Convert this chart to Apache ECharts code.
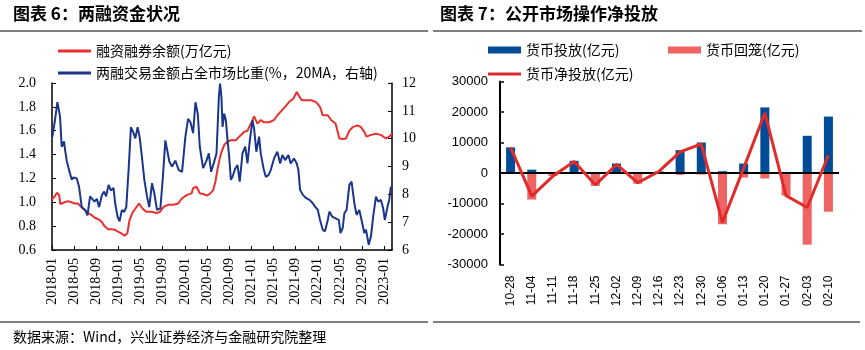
<!DOCTYPE html>
<html>
<head>
<meta charset="utf-8">
<script src="https://cdn.jsdelivr.net/npm/echarts@6/dist/echarts.min.js"></script>
<style>
  html, body { margin: 0; padding: 0; background: #fff; }
  #main { width: 865px; height: 350px; }
</style>
</head>
<body>
<div id="main"></div>
<script>
// 图表6 两融：横轴为自2018-01起的月份数
var redT = [0,0.5,0.9,1.3,1.5,2.3,2.9,3.5,4.1,4.7,5.3,5.9,6.5,7.1,7.7,8.3,8.9,9.5,10.1,10.7,11.3,11.9,12.5,13.1,13.6,14.0,14.5,15.1,15.7,16.3,17.0,17.9,18.9,19.5,20.1,21.0,21.9,22.8,23.4,24.3,25.2,25.5,26.1,26.7,27.3,27.9,28.5,29.1,29.5,29.9,30.3,30.6,31.1,31.7,32.3,33.2,33.8,34.7,35.3,35.9,36.5,37.1,37.7,38.3,39.2,40.1,40.7,41.3,42.1,42.8,43.6,44.2,44.5,45.1,45.9,46.8,47.7,48.4,48.9,49.8,50.4,51.2,51.6,51.9,52.5,53.1,53.7,54.3,55.2,55.8,56.4,56.8,57.6,58.5,59.4,60.3,60.9,61.4];
var redVal = [1.025,1.05,1.08,1.06,0.985,1.0,1.01,1.0,0.99,0.99,0.96,0.935,0.91,0.895,0.87,0.86,0.84,0.80,0.775,0.775,0.77,0.755,0.74,0.72,0.74,0.85,0.91,0.95,0.99,0.95,0.92,0.92,0.91,0.92,0.96,0.98,0.98,0.99,1.03,1.06,1.075,1.12,1.13,1.075,1.07,1.055,1.07,1.10,1.17,1.28,1.37,1.42,1.48,1.51,1.52,1.52,1.55,1.59,1.60,1.66,1.72,1.66,1.69,1.67,1.67,1.69,1.73,1.76,1.80,1.84,1.87,1.925,1.90,1.855,1.855,1.855,1.84,1.80,1.73,1.73,1.69,1.66,1.59,1.535,1.53,1.535,1.60,1.63,1.645,1.63,1.59,1.55,1.565,1.575,1.565,1.535,1.55,1.575];

var blueT = [0.06,0.54,0.97,1.21,1.45,1.75,2.17,2.36,2.66,3.08,3.56,3.86,4.47,4.89,5.37,5.98,6.40,6.88,7.19,7.67,8.09,8.51,9.00,9.42,9.78,10.21,10.63,11.11,11.41,11.84,12.20,12.62,13.04,13.41,13.83,14.25,14.73,15.04,15.46,15.82,16.24,16.67,17.15,17.57,18.06,18.48,18.96,19.57,19.99,20.47,20.77,21.20,21.68,22.28,22.89,23.49,24.09,24.58,25.00,25.48,25.91,26.33,26.69,27.29,27.90,28.32,28.74,29.23,29.71,30.13,30.35,30.6,30.8,31.1,31.4,31.7,32.0,32.3,32.6,33.1,33.5,33.9,34.4,34.9,35.3,35.7,36.2,36.5,36.9,37.4,37.7,38.2,38.6,39.1,39.5,40.1,40.7,41.2,41.6,42.1,42.7,43.1,43.7,44.2,44.5,44.8,45.3,45.9,46.5,47.1,47.5,48.0,48.4,48.9,49.3,49.8,50.1,50.6,51.2,51.8,52.1,52.5,52.8,53.2,53.7,54.1,54.6,55.0,55.5,55.9,56.4,56.7,57.2,57.6,58.0,58.5,58.9,59.4,59.8,60.1,60.6,60.9,61.2];
var blueVal = [10.07,10.67,11.31,11.38,10.80,9.71,9.90,9.60,9.21,8.87,8.53,8.61,8.57,8.27,7.54,7.44,7.24,7.93,7.93,7.74,7.84,7.54,7.97,8.10,7.93,8.34,8.14,8.23,7.67,7.20,7.03,7.44,7.37,7.54,8.87,10.41,10.20,10.01,10.41,10.07,9.34,8.53,7.93,7.54,8.40,8.04,7.44,7.50,8.53,9.94,10.01,9.17,9.00,9.21,8.87,8.81,10.07,10.71,10.59,10.20,11.31,10.89,9.71,8.94,9.21,9.47,8.81,9.13,9.47,11.49,11.98,11.5,10.42,10.9,10.66,9.95,9.35,8.52,8.63,8.93,9.05,8.46,9.47,9.71,9.11,9.89,10.66,10.36,9.53,10.07,9.47,8.93,8.63,8.69,8.87,9.29,9.53,9.11,9.41,9.23,9.41,9.11,9.29,9.11,8.87,8.16,7.98,7.86,7.80,7.68,7.56,7.44,7.08,6.73,6.67,7.08,7.38,7.20,7.14,7.08,6.61,6.79,7.32,7.44,8.34,8.46,7.68,7.26,7.44,7.08,6.61,6.73,6.19,6.49,7.20,7.92,7.74,7.80,7.50,7.08,7.56,7.80,8.28];

// 图表7 公开市场操作（亿元）
var weeks = ['10-28','11-04','11-11','11-18','11-25','12-02','12-09','12-16','12-23','12-30','01-06','01-13','01-20','01-27','02-03','02-10'];
var inject = [8400,1100,0,4000,300,3100,300,500,7500,10000,600,3100,21500,0,12200,18500];
var withdraw = [0,-8700,-1000,-200,-4200,-300,-3500,0,-600,-500,-16800,-1500,-1800,-7400,-23500,-12700];
var netInject = [8400,-7600,-1000,3800,-3900,2800,-3200,500,6900,9500,-16200,1600,19700,-7400,-11300,5800];

function pairs(t, v) {
  var out = [];
  for (var i = 0; i < t.length; i++) out.push([t[i], v[i]]);
  return out;
}

var serif = 'Liberation Serif';
var sans = 'Liberation Sans';
var cjk = 'Noto Sans CJK SC';
var blk = '#000';

var chart = echarts.init(document.getElementById('main'));
var option = {
  animation: false,
  grid: [
    { left: 52, top: 83, width: 340, height: 167 },
    { left: 500, top: 81.5, width: 339, height: 183 }
  ],
  legend: [
    { data: [{ name: '融资融券余额(万亿元)', icon: 'rect' }], left: 53, top: 39, itemWidth: 33, itemHeight: 3, selectedMode: false,
      textStyle: { fontFamily: cjk, fontSize: 14, color: blk } },
    { data: [{ name: '两融交易金额占全市场比重(%，20MA，右轴)', icon: 'rect' }], left: 53, top: 61, itemWidth: 33, itemHeight: 3, selectedMode: false,
      textStyle: { fontFamily: cjk, fontSize: 14, color: blk } },
    { data: [{ name: '货币投放(亿元)', icon: 'rect' }], left: 483, top: 38, itemWidth: 33, itemHeight: 7, selectedMode: false,
      textStyle: { fontFamily: cjk, fontSize: 14, color: blk } },
    { data: [{ name: '货币回笼(亿元)', icon: 'rect' }], left: 663, top: 38, itemWidth: 33, itemHeight: 7, selectedMode: false,
      textStyle: { fontFamily: cjk, fontSize: 14, color: blk } },
    { data: [{ name: '货币净投放(亿元)', icon: 'rect' }], left: 483, top: 62, itemWidth: 33, itemHeight: 3, selectedMode: false,
      textStyle: { fontFamily: cjk, fontSize: 14, color: blk } }
  ],
  xAxis: [
    {
      type: 'value', gridIndex: 0, min: 0, max: 61.4, interval: 4,
      axisLine: { show: true, lineStyle: { color: blk, width: 1.5 } },
      axisTick: { show: true, inside: true, length: 4, lineStyle: { color: blk } },
      splitLine: { show: false },
      axisLabel: {
        rotate: 90, margin: 8, fontFamily: serif, fontSize: 14, color: blk, showMaxLabel: false,
        formatter: function (v) {
          if (Math.abs(v % 4) > 1e-6) return '';
          var y = 2018 + Math.floor(v / 12);
          var m = (v % 12) + 1;
          return y + '-' + (m < 10 ? '0' + m : m);
        }
      }
    },
    {
      type: 'category', gridIndex: 1, data: weeks,
      axisLine: { show: false },
      axisTick: { show: false },
      axisLabel: { rotate: 90, margin: 11, fontFamily: sans, fontSize: 12, color: blk, interval: 0 }
    }
  ],
  yAxis: [
    {
      type: 'value', gridIndex: 0, min: 0.6, max: 2.0, interval: 0.2,
      axisLine: { show: true, lineStyle: { color: blk, width: 1.5 } },
      axisTick: { show: true, inside: true, length: 4, lineStyle: { color: blk } },
      splitLine: { show: false },
      axisLabel: { margin: 16, fontFamily: serif, fontSize: 14, color: blk,
        formatter: function (v) { return v.toFixed(1); } }
    },
    {
      type: 'value', gridIndex: 0, position: 'right', min: 6, max: 12, interval: 1,
      axisLine: { show: true, lineStyle: { color: blk, width: 1.5 } },
      axisTick: { show: true, inside: true, length: 4, lineStyle: { color: blk } },
      splitLine: { show: false },
      axisLabel: { margin: 10, fontFamily: serif, fontSize: 14, color: blk }
    },
    {
      type: 'value', gridIndex: 1, min: -30000, max: 30000, interval: 10000,
      axisLine: { show: true, lineStyle: { color: blk, width: 2 } },
      axisTick: { show: true, inside: true, length: 4, lineStyle: { color: blk, width: 1.5 } },
      splitLine: { show: false },
      axisLabel: { margin: 12, fontFamily: sans, fontSize: 13, color: blk,
        formatter: function (v) { return String(v); } }
    }
  ],
  series: [
    {
      name: '融资融券余额(万亿元)', type: 'line', xAxisIndex: 0, yAxisIndex: 0,
      data: pairs(redT, redVal), symbol: 'none',
      itemStyle: { color: '#E8302F' }, lineStyle: { color: '#E8302F', width: 2 }
    },
    {
      name: '两融交易金额占全市场比重(%，20MA，右轴)', type: 'line', xAxisIndex: 0, yAxisIndex: 1,
      data: pairs(blueT, blueVal), symbol: 'none',
      itemStyle: { color: '#1A358C' }, lineStyle: { color: '#1A358C', width: 2 }
    },
    {
      name: '货币投放(亿元)', type: 'bar', xAxisIndex: 1, yAxisIndex: 2, stack: 'op',
      data: inject, barWidth: 9, itemStyle: { color: '#004C97' },
      markLine: {
        silent: true, symbol: ['none', 'none'], label: { show: false },
        lineStyle: { color: blk, width: 2, type: 'solid' },
        data: [{ yAxis: 0 }]
      }
    },
    {
      name: '货币回笼(亿元)', type: 'bar', xAxisIndex: 1, yAxisIndex: 2, stack: 'op',
      data: withdraw, barWidth: 9, itemStyle: { color: '#F06363' }
    },
    {
      name: '货币净投放(亿元)', type: 'line', xAxisIndex: 1, yAxisIndex: 2,
      data: netInject, symbol: 'none', z: 5,
      itemStyle: { color: '#E02B2B' }, lineStyle: { color: '#E02B2B', width: 3 }
    }
  ],
  graphic: [
    { type: 'text', left: 13, top: 5, style: { text: '图表 6：两融资金状况', font: 'bold 17px "Noto Sans CJK SC"', fill: blk } },
    { type: 'text', left: 440, top: 5, style: { text: '图表 7：公开市场操作净投放', font: 'bold 17px "Noto Sans CJK SC"', fill: blk } },
    { type: 'line', shape: { x1: 0, y1: 31, x2: 428, y2: 31 }, style: { stroke: blk, lineWidth: 1 } },
    { type: 'line', shape: { x1: 433, y1: 31, x2: 862, y2: 31 }, style: { stroke: blk, lineWidth: 1 } },
    { type: 'line', shape: { x1: 0, y1: 322, x2: 428, y2: 322 }, style: { stroke: blk, lineWidth: 1 } },
    { type: 'line', shape: { x1: 433, y1: 322, x2: 860, y2: 322 }, style: { stroke: blk, lineWidth: 1 } },
    { type: 'text', left: 13, top: 330, style: { text: '数据来源：Wind，兴业证券经济与金融研究院整理', font: '14px "Noto Sans CJK SC"', fill: blk } }
  ]
};
chart.setOption(option);
</script>
</body>
</html>
